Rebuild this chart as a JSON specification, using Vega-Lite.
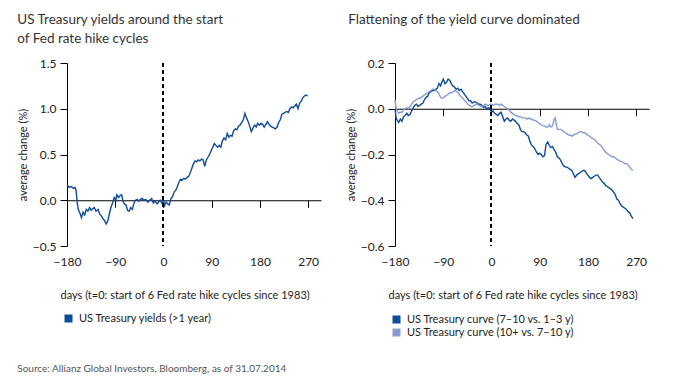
{
  "$schema": "https://vega.github.io/schema/vega-lite/v6.json",
  "background": "white",
  "padding": {"left": 17, "top": 12, "right": 5, "bottom": 5},
  "config": {
    "view": {"stroke": null},
    "font": "Lato",
    "axis": {"grid": false, "domainColor": "black", "tickColor": "black", "labelColor": "#222", "titleColor": "#222", "labelFont": "Lato", "titleFont": "Lato", "titleFontWeight": "normal", "labelFontSize": 12, "titleFontSize": 11},
    "legend": {"labelFont": "Lato", "labelFontSize": 11, "labelColor": "#222", "labelLimit": 300},
    "title": {"font": "Lato", "fontWeight": "normal", "color": "#333"},
    "concat": {"spacing": 74}
  },
  "title": {"text": "Source: Allianz Global Investors, Bloomberg, as of 31.07.2014", "orient": "bottom", "anchor": "start", "frame": "bounds", "fontSize": 10, "color": "#555", "offset": 25},
  "datasets": {
    "yields": [
      {"d":-180,"v":0.17},{"d":-176,"v":0.14},{"d":-172,"v":0.15},{"d":-168,"v":0.13},{"d":-165,"v":0.14},{"d":-163,"v":0.11},{"d":-161,"v":-0.02},{"d":-159,"v":-0.10},{"d":-156,"v":-0.14},{"d":-153,"v":-0.19},{"d":-150,"v":-0.13},{"d":-147,"v":-0.16},{"d":-144,"v":-0.10},{"d":-141,"v":-0.12},{"d":-138,"v":-0.08},{"d":-135,"v":-0.11},{"d":-132,"v":-0.09},{"d":-129,"v":-0.08},{"d":-126,"v":-0.12},{"d":-122,"v":-0.10},{"d":-119,"v":-0.15},{"d":-116,"v":-0.17},{"d":-113,"v":-0.20},{"d":-110,"v":-0.22},{"d":-107,"v":-0.26},{"d":-104,"v":-0.23},{"d":-101,"v":-0.15},{"d":-98,"v":-0.08},{"d":-95,"v":-0.03},{"d":-92,"v":0.03},{"d":-89,"v":0.00},{"d":-87,"v":0.06},{"d":-84,"v":0.03},{"d":-81,"v":0.05},{"d":-78,"v":0.06},{"d":-76,"v":0.00},{"d":-73,"v":-0.04},{"d":-70,"v":-0.05},{"d":-67,"v":-0.11},{"d":-64,"v":-0.12},{"d":-61,"v":-0.08},{"d":-58,"v":-0.10},{"d":-55,"v":-0.03},{"d":-52,"v":0.00},{"d":-49,"v":0.01},{"d":-46,"v":-0.01},{"d":-43,"v":0.01},{"d":-40,"v":0.02},{"d":-36,"v":0.00},{"d":-33,"v":0.01},{"d":-29,"v":-0.02},{"d":-26,"v":0.00},{"d":-22,"v":0.02},{"d":-19,"v":-0.03},{"d":-16,"v":-0.01},{"d":-12,"v":-0.04},{"d":-9,"v":-0.02},{"d":-6,"v":0.00},{"d":-3,"v":-0.03},{"d":0,"v":0.00},{"d":2,"v":-0.06},{"d":5,"v":-0.02},{"d":8,"v":-0.04},{"d":11,"v":-0.05},{"d":14,"v":0.02},{"d":17,"v":0.04},{"d":20,"v":0.09},{"d":23,"v":0.11},{"d":26,"v":0.15},{"d":29,"v":0.20},{"d":32,"v":0.23},{"d":35,"v":0.22},{"d":38,"v":0.24},{"d":41,"v":0.23},{"d":44,"v":0.25},{"d":47,"v":0.26},{"d":50,"v":0.30},{"d":53,"v":0.35},{"d":56,"v":0.40},{"d":59,"v":0.43},{"d":62,"v":0.42},{"d":65,"v":0.44},{"d":68,"v":0.43},{"d":71,"v":0.45},{"d":74,"v":0.44},{"d":77,"v":0.37},{"d":80,"v":0.44},{"d":83,"v":0.47},{"d":86,"v":0.50},{"d":89,"v":0.54},{"d":92,"v":0.58},{"d":95,"v":0.62},{"d":98,"v":0.60},{"d":101,"v":0.58},{"d":104,"v":0.60},{"d":107,"v":0.58},{"d":110,"v":0.65},{"d":113,"v":0.68},{"d":116,"v":0.66},{"d":119,"v":0.73},{"d":122,"v":0.69},{"d":125,"v":0.71},{"d":128,"v":0.70},{"d":131,"v":0.76},{"d":134,"v":0.78},{"d":137,"v":0.77},{"d":140,"v":0.81},{"d":143,"v":0.82},{"d":146,"v":0.85},{"d":149,"v":0.88},{"d":152,"v":0.95},{"d":155,"v":0.90},{"d":158,"v":0.86},{"d":161,"v":0.81},{"d":164,"v":0.75},{"d":167,"v":0.79},{"d":170,"v":0.82},{"d":173,"v":0.80},{"d":176,"v":0.84},{"d":179,"v":0.82},{"d":182,"v":0.84},{"d":185,"v":0.83},{"d":188,"v":0.80},{"d":191,"v":0.83},{"d":194,"v":0.86},{"d":197,"v":0.83},{"d":200,"v":0.81},{"d":203,"v":0.80},{"d":206,"v":0.79},{"d":209,"v":0.78},{"d":212,"v":0.80},{"d":215,"v":0.85},{"d":218,"v":0.88},{"d":221,"v":0.94},{"d":224,"v":0.95},{"d":227,"v":0.96},{"d":230,"v":0.97},{"d":233,"v":0.96},{"d":236,"v":1.00},{"d":239,"v":1.02},{"d":242,"v":1.01},{"d":245,"v":1.03},{"d":248,"v":1.05},{"d":251,"v":1.00},{"d":254,"v":1.06},{"d":257,"v":1.08},{"d":260,"v":1.12},{"d":263,"v":1.14},{"d":266,"v":1.15},{"d":269,"v":1.14}
    ],
    "curve": [
      {"d":-180,"s":"a","v":0.00},{"d":-178,"s":"a","v":-0.04},{"d":-176,"s":"a","v":-0.05},{"d":-173,"s":"a","v":-0.06},{"d":-170,"s":"a","v":-0.045},{"d":-167,"s":"a","v":-0.055},{"d":-164,"s":"a","v":-0.035},{"d":-161,"s":"a","v":-0.03},{"d":-158,"s":"a","v":-0.02},{"d":-155,"s":"a","v":-0.03},{"d":-152,"s":"a","v":-0.025},{"d":-149,"s":"a","v":-0.01},{"d":-146,"s":"a","v":0.005},{"d":-143,"s":"a","v":0.015},{"d":-140,"s":"a","v":0.02},{"d":-137,"s":"a","v":0.01},{"d":-134,"s":"a","v":0.015},{"d":-131,"s":"a","v":0.02},{"d":-128,"s":"a","v":0.025},{"d":-125,"s":"a","v":0.04},{"d":-122,"s":"a","v":0.05},{"d":-119,"s":"a","v":0.055},{"d":-116,"s":"a","v":0.07},{"d":-113,"s":"a","v":0.075},{"d":-110,"s":"a","v":0.08},{"d":-107,"s":"a","v":0.08},{"d":-104,"s":"a","v":0.085},{"d":-101,"s":"a","v":0.09},{"d":-98,"s":"a","v":0.11},{"d":-95,"s":"a","v":0.10},{"d":-92,"s":"a","v":0.12},{"d":-90,"s":"a","v":0.13},{"d":-87,"s":"a","v":0.11},{"d":-84,"s":"a","v":0.115},{"d":-81,"s":"a","v":0.13},{"d":-78,"s":"a","v":0.125},{"d":-75,"s":"a","v":0.11},{"d":-72,"s":"a","v":0.10},{"d":-69,"s":"a","v":0.095},{"d":-66,"s":"a","v":0.085},{"d":-63,"s":"a","v":0.09},{"d":-60,"s":"a","v":0.08},{"d":-57,"s":"a","v":0.085},{"d":-54,"s":"a","v":0.075},{"d":-51,"s":"a","v":0.065},{"d":-48,"s":"a","v":0.055},{"d":-45,"s":"a","v":0.045},{"d":-42,"s":"a","v":0.035},{"d":-39,"s":"a","v":0.035},{"d":-36,"s":"a","v":0.025},{"d":-33,"s":"a","v":0.03},{"d":-30,"s":"a","v":0.03},{"d":-27,"s":"a","v":0.025},{"d":-24,"s":"a","v":0.02},{"d":-21,"s":"a","v":0.02},{"d":-18,"s":"a","v":0.015},{"d":-15,"s":"a","v":0.005},{"d":-12,"s":"a","v":0.01},{"d":-9,"s":"a","v":0.00},{"d":-6,"s":"a","v":0.005},{"d":-3,"s":"a","v":0.00},{"d":0,"s":"a","v":-0.015},{"d":3,"s":"a","v":-0.01},{"d":6,"s":"a","v":-0.02},{"d":9,"s":"a","v":-0.025},{"d":12,"s":"a","v":-0.03},{"d":15,"s":"a","v":-0.02},{"d":18,"s":"a","v":-0.015},{"d":21,"s":"a","v":-0.035},{"d":24,"s":"a","v":-0.055},{"d":27,"s":"a","v":-0.045},{"d":30,"s":"a","v":-0.04},{"d":33,"s":"a","v":-0.05},{"d":36,"s":"a","v":-0.055},{"d":39,"s":"a","v":-0.045},{"d":42,"s":"a","v":-0.05},{"d":45,"s":"a","v":-0.055},{"d":48,"s":"a","v":-0.065},{"d":51,"s":"a","v":-0.07},{"d":54,"s":"a","v":-0.09},{"d":57,"s":"a","v":-0.10},{"d":60,"s":"a","v":-0.10},{"d":63,"s":"a","v":-0.105},{"d":66,"s":"a","v":-0.115},{"d":69,"s":"a","v":-0.12},{"d":72,"s":"a","v":-0.145},{"d":75,"s":"a","v":-0.16},{"d":78,"s":"a","v":-0.165},{"d":81,"s":"a","v":-0.175},{"d":84,"s":"a","v":-0.19},{"d":87,"s":"a","v":-0.20},{"d":90,"s":"a","v":-0.195},{"d":93,"s":"a","v":-0.20},{"d":96,"s":"a","v":-0.21},{"d":99,"s":"a","v":-0.205},{"d":102,"s":"a","v":-0.155},{"d":105,"s":"a","v":-0.145},{"d":108,"s":"a","v":-0.16},{"d":111,"s":"a","v":-0.17},{"d":114,"s":"a","v":-0.165},{"d":117,"s":"a","v":-0.18},{"d":120,"s":"a","v":-0.19},{"d":123,"s":"a","v":-0.21},{"d":126,"s":"a","v":-0.215},{"d":129,"s":"a","v":-0.225},{"d":132,"s":"a","v":-0.24},{"d":135,"s":"a","v":-0.25},{"d":138,"s":"a","v":-0.255},{"d":141,"s":"a","v":-0.255},{"d":144,"s":"a","v":-0.26},{"d":147,"s":"a","v":-0.265},{"d":150,"s":"a","v":-0.27},{"d":153,"s":"a","v":-0.285},{"d":156,"s":"a","v":-0.30},{"d":159,"s":"a","v":-0.29},{"d":162,"s":"a","v":-0.285},{"d":165,"s":"a","v":-0.28},{"d":168,"s":"a","v":-0.275},{"d":171,"s":"a","v":-0.27},{"d":174,"s":"a","v":-0.27},{"d":177,"s":"a","v":-0.28},{"d":180,"s":"a","v":-0.29},{"d":183,"s":"a","v":-0.30},{"d":186,"s":"a","v":-0.305},{"d":189,"s":"a","v":-0.30},{"d":192,"s":"a","v":-0.295},{"d":195,"s":"a","v":-0.29},{"d":198,"s":"a","v":-0.29},{"d":201,"s":"a","v":-0.30},{"d":204,"s":"a","v":-0.31},{"d":207,"s":"a","v":-0.32},{"d":210,"s":"a","v":-0.325},{"d":213,"s":"a","v":-0.335},{"d":216,"s":"a","v":-0.34},{"d":219,"s":"a","v":-0.345},{"d":222,"s":"a","v":-0.35},{"d":225,"s":"a","v":-0.355},{"d":228,"s":"a","v":-0.365},{"d":231,"s":"a","v":-0.375},{"d":234,"s":"a","v":-0.395},{"d":237,"s":"a","v":-0.40},{"d":240,"s":"a","v":-0.415},{"d":243,"s":"a","v":-0.425},{"d":246,"s":"a","v":-0.43},{"d":249,"s":"a","v":-0.435},{"d":252,"s":"a","v":-0.44},{"d":255,"s":"a","v":-0.45},{"d":258,"s":"a","v":-0.455},{"d":261,"s":"a","v":-0.47},{"d":264,"s":"a","v":-0.48},
      {"d":-180,"s":"b","v":0.04},{"d":-178,"s":"b","v":0.00},{"d":-176,"s":"b","v":-0.01},{"d":-173,"s":"b","v":-0.02},{"d":-170,"s":"b","v":-0.015},{"d":-167,"s":"b","v":-0.015},{"d":-164,"s":"b","v":-0.005},{"d":-161,"s":"b","v":0.00},{"d":-158,"s":"b","v":0.005},{"d":-155,"s":"b","v":0.00},{"d":-152,"s":"b","v":0.01},{"d":-149,"s":"b","v":0.02},{"d":-146,"s":"b","v":0.03},{"d":-143,"s":"b","v":0.035},{"d":-140,"s":"b","v":0.04},{"d":-137,"s":"b","v":0.045},{"d":-134,"s":"b","v":0.045},{"d":-131,"s":"b","v":0.05},{"d":-128,"s":"b","v":0.055},{"d":-125,"s":"b","v":0.06},{"d":-122,"s":"b","v":0.065},{"d":-119,"s":"b","v":0.07},{"d":-116,"s":"b","v":0.075},{"d":-113,"s":"b","v":0.08},{"d":-110,"s":"b","v":0.085},{"d":-107,"s":"b","v":0.085},{"d":-104,"s":"b","v":0.08},{"d":-101,"s":"b","v":0.075},{"d":-98,"s":"b","v":0.065},{"d":-95,"s":"b","v":0.05},{"d":-92,"s":"b","v":0.045},{"d":-89,"s":"b","v":0.05},{"d":-86,"s":"b","v":0.055},{"d":-83,"s":"b","v":0.06},{"d":-80,"s":"b","v":0.065},{"d":-77,"s":"b","v":0.07},{"d":-74,"s":"b","v":0.07},{"d":-71,"s":"b","v":0.075},{"d":-68,"s":"b","v":0.08},{"d":-65,"s":"b","v":0.075},{"d":-62,"s":"b","v":0.07},{"d":-59,"s":"b","v":0.06},{"d":-56,"s":"b","v":0.05},{"d":-53,"s":"b","v":0.045},{"d":-50,"s":"b","v":0.035},{"d":-47,"s":"b","v":0.03},{"d":-44,"s":"b","v":0.02},{"d":-41,"s":"b","v":0.015},{"d":-38,"s":"b","v":0.01},{"d":-35,"s":"b","v":0.01},{"d":-32,"s":"b","v":0.015},{"d":-29,"s":"b","v":0.02},{"d":-26,"s":"b","v":0.02},{"d":-23,"s":"b","v":0.015},{"d":-20,"s":"b","v":0.01},{"d":-17,"s":"b","v":0.01},{"d":-14,"s":"b","v":0.015},{"d":-11,"s":"b","v":0.02},{"d":-8,"s":"b","v":0.015},{"d":-5,"s":"b","v":0.015},{"d":-2,"s":"b","v":0.02},{"d":0,"s":"b","v":0.02},{"d":3,"s":"b","v":0.015},{"d":6,"s":"b","v":0.02},{"d":9,"s":"b","v":0.02},{"d":12,"s":"b","v":0.02},{"d":15,"s":"b","v":0.015},{"d":18,"s":"b","v":0.02},{"d":21,"s":"b","v":0.015},{"d":24,"s":"b","v":0.01},{"d":27,"s":"b","v":0.005},{"d":30,"s":"b","v":0.00},{"d":33,"s":"b","v":-0.005},{"d":36,"s":"b","v":-0.015},{"d":39,"s":"b","v":-0.02},{"d":42,"s":"b","v":-0.025},{"d":45,"s":"b","v":-0.03},{"d":48,"s":"b","v":-0.03},{"d":51,"s":"b","v":-0.035},{"d":54,"s":"b","v":-0.035},{"d":57,"s":"b","v":-0.04},{"d":60,"s":"b","v":-0.04},{"d":63,"s":"b","v":-0.04},{"d":66,"s":"b","v":-0.045},{"d":69,"s":"b","v":-0.04},{"d":72,"s":"b","v":-0.045},{"d":75,"s":"b","v":-0.045},{"d":78,"s":"b","v":-0.05},{"d":81,"s":"b","v":-0.05},{"d":84,"s":"b","v":-0.055},{"d":87,"s":"b","v":-0.06},{"d":90,"s":"b","v":-0.065},{"d":93,"s":"b","v":-0.07},{"d":96,"s":"b","v":-0.075},{"d":99,"s":"b","v":-0.075},{"d":102,"s":"b","v":-0.08},{"d":105,"s":"b","v":-0.08},{"d":108,"s":"b","v":-0.07},{"d":111,"s":"b","v":-0.08},{"d":114,"s":"b","v":-0.075},{"d":117,"s":"b","v":-0.045},{"d":119,"s":"b","v":-0.04},{"d":121,"s":"b","v":-0.07},{"d":123,"s":"b","v":-0.09},{"d":126,"s":"b","v":-0.09},{"d":129,"s":"b","v":-0.09},{"d":132,"s":"b","v":-0.095},{"d":135,"s":"b","v":-0.10},{"d":138,"s":"b","v":-0.105},{"d":141,"s":"b","v":-0.11},{"d":144,"s":"b","v":-0.115},{"d":147,"s":"b","v":-0.115},{"d":150,"s":"b","v":-0.12},{"d":153,"s":"b","v":-0.115},{"d":156,"s":"b","v":-0.11},{"d":159,"s":"b","v":-0.11},{"d":162,"s":"b","v":-0.105},{"d":165,"s":"b","v":-0.10},{"d":168,"s":"b","v":-0.10},{"d":171,"s":"b","v":-0.105},{"d":174,"s":"b","v":-0.105},{"d":177,"s":"b","v":-0.11},{"d":180,"s":"b","v":-0.115},{"d":183,"s":"b","v":-0.12},{"d":186,"s":"b","v":-0.125},{"d":189,"s":"b","v":-0.13},{"d":192,"s":"b","v":-0.135},{"d":195,"s":"b","v":-0.14},{"d":198,"s":"b","v":-0.15},{"d":201,"s":"b","v":-0.155},{"d":204,"s":"b","v":-0.16},{"d":207,"s":"b","v":-0.17},{"d":210,"s":"b","v":-0.18},{"d":213,"s":"b","v":-0.19},{"d":216,"s":"b","v":-0.195},{"d":219,"s":"b","v":-0.20},{"d":222,"s":"b","v":-0.205},{"d":225,"s":"b","v":-0.21},{"d":228,"s":"b","v":-0.21},{"d":231,"s":"b","v":-0.215},{"d":234,"s":"b","v":-0.22},{"d":237,"s":"b","v":-0.225},{"d":240,"s":"b","v":-0.23},{"d":243,"s":"b","v":-0.23},{"d":246,"s":"b","v":-0.235},{"d":249,"s":"b","v":-0.24},{"d":252,"s":"b","v":-0.24},{"d":255,"s":"b","v":-0.245},{"d":258,"s":"b","v":-0.255},{"d":261,"s":"b","v":-0.265},{"d":264,"s":"b","v":-0.27}
    ]
  },
  "bounds": "flush",
  "hconcat": [
    {
      "width": 254,
      "height": 183,
      "title": {"text": ["US Treasury yields around the start", "of Fed rate hike cycles"], "anchor": "start", "frame": "bounds", "fontSize": 13.5, "lineHeight": 19, "offset": 12},
      "data": {"name": "yields"},
      "layer": [
        {
          "mark": {"type": "line", "strokeWidth": 1.4},
          "encoding": {
            "x": {"field": "d", "type": "quantitative", "scale": {"domain": [-180, 294], "nice": false, "zero": false},
                  "axis": {"orient": "bottom", "values": [-180, -90, 0, 90, 180, 270], "domain": false, "ticks": false, "labelFlush": false, "labelPadding": 10, "title": "days (t=0: start of 6 Fed rate hike cycles since 1983)", "titleAnchor": "start", "titleAlign": "left", "titleX": -7, "titlePadding": 22}},
            "y": {"field": "v", "type": "quantitative", "scale": {"domain": [-0.5, 1.5], "nice": false, "zero": false},
                  "axis": {"values": [-0.5, 0, 0.5, 1, 1.5], "format": ".1f", "tickSize": 7, "labelPadding": 4, "title": "average change (%)", "titleFontSize": 11, "titlePadding": 4}},
            "color": {"datum": "US Treasury yields (>1 year)", "type": "nominal", "scale": {"range": ["#0f4c97"]},
                      "legend": {"orient": "none", "legendX": -4, "legendY": 250, "title": null, "symbolType": "square", "symbolSize": 16, "symbolStrokeWidth": 4, "labelOffset": 5}}
          }
        },
        {
          "mark": {"type": "rule", "strokeDash": [4, 3], "color": "black", "strokeWidth": 0.9},
          "encoding": {
            "x": {"datum": 0, "type": "quantitative",
                  "axis": {"orient": "bottom", "offset": -45.75, "values": [-180, -90, 0, 90, 180, 270], "labels": false, "tickSize": 7, "title": null}}
          }
        }
      ],
      "resolve": {"axis": {"x": "independent"}}
    },
    {
      "width": 254,
      "height": 183,
      "title": {"text": "Flattening of the yield curve dominated", "anchor": "start", "frame": "bounds", "fontSize": 13.5, "offset": 31, "dx": 3},
      "data": {"name": "curve"},
      "layer": [
        {
          "mark": {"type": "line", "strokeWidth": 1.4},
          "encoding": {
            "x": {"field": "d", "type": "quantitative", "scale": {"domain": [-180, 294], "nice": false, "zero": false},
                  "axis": {"orient": "bottom", "values": [-180, -90, 0, 90, 180, 270], "domain": false, "ticks": false, "labelFlush": false, "labelPadding": 10, "title": "days (t=0: start of 6 Fed rate hike cycles since 1983)", "titleAnchor": "start", "titleAlign": "left", "titleX": -7, "titlePadding": 22}},
            "y": {"field": "v", "type": "quantitative", "scale": {"domain": [-0.6, 0.2], "nice": false, "zero": false},
                  "axis": {"values": [-0.6, -0.4, -0.2, 0, 0.2], "format": ".1f", "tickSize": 7, "labelPadding": 4, "title": "average change (%)", "titleFontSize": 11, "titlePadding": 4}},
            "color": {"field": "s", "type": "nominal", "scale": {"domain": ["a", "b"], "range": ["#0f4c97", "#8a9bd3"]},
                      "legend": {"orient": "none", "legendX": -4, "legendY": 250, "title": null, "symbolType": "square", "symbolSize": 16, "symbolStrokeWidth": 4, "labelOffset": 5, "rowPadding": 0, "clipHeight": 13,
                                 "labelExpr": "datum.value == 'a' ? 'US Treasury curve (7–10 vs. 1–3 y)' : 'US Treasury curve (10+ vs. 7–10 y)'"}}
          }
        },
        {
          "mark": {"type": "rule", "strokeDash": [4, 3], "color": "black", "strokeWidth": 0.9},
          "encoding": {
            "x": {"datum": 0, "type": "quantitative",
                  "axis": {"orient": "bottom", "offset": -137.25, "values": [-180, -90, 0, 90, 180, 270], "labels": false, "tickSize": 7, "title": null}}
          }
        }
      ],
      "resolve": {"axis": {"x": "independent"}}
    }
  ],
  "resolve": {"scale": {"color": "independent"}, "legend": {"color": "independent"}}
}
